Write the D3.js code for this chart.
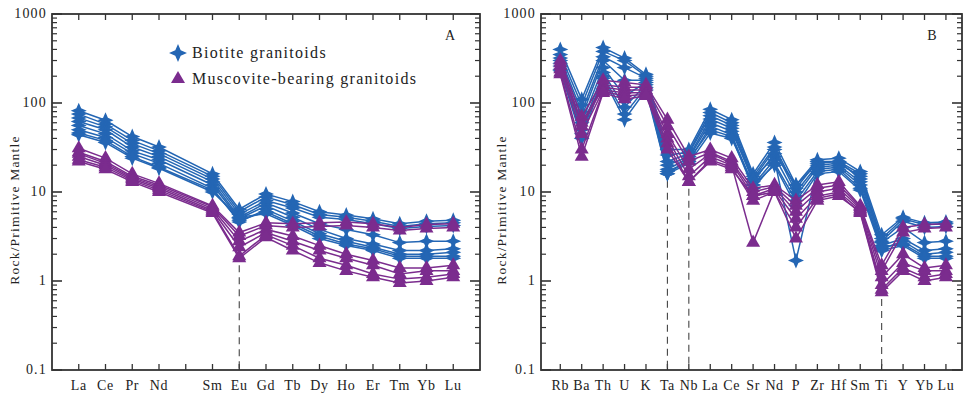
<!DOCTYPE html>
<html>
<head>
<meta charset="utf-8">
<script src="https://cdn.jsdelivr.net/npm/d3@7"></script>
<style>
  body { margin: 0; background: #fff; }
  svg text { font-family: "Liberation Serif", "DejaVu Serif", serif; fill: #222; }
</style>
</head>
<body>
<div class="chart"></div>
<script>
// element labels
var reeElements = ['La', 'Ce', 'Pr', 'Nd', 'Sm', 'Eu', 'Gd', 'Tb', 'Dy', 'Ho', 'Er', 'Tm', 'Yb', 'Lu'];
var reeSlots = [1, 2, 3, 4, 6, 7, 8, 9, 10, 11, 12, 13, 14, 15]; // Pm left out
var spiderElements = ['Rb', 'Ba', 'Th', 'U', 'K', 'Ta', 'Nb', 'La', 'Ce', 'Sr', 'Nd', 'P', 'Zr', 'Hf', 'Sm', 'Ti', 'Y', 'Yb', 'Lu'];
var yTickLabels = ['0.1', '1', '10', '100', '1000'];

// biotite granitoids, REE
var bioREE = [
  [82, 64, 42, 32, 16, 6.4, 9.5, 7.8, 6.0, 5.5, 5.0, 4.4, 4.7, 4.8],
  [75, 58, 38, 29, 15, 6.0, 8.8, 7.2, 5.6, 5.2, 4.7, 4.1, 4.4, 4.5],
  [68, 54, 35, 27, 14, 5.6, 8.0, 6.6, 5.2, 4.9, 4.4, 3.9, 4.1, 4.2],
  [62, 50, 32, 25, 13, 5.2, 7.5, 5.8, 4.4, 3.8, 3.3, 2.7, 2.8, 2.8],
  [56, 45, 29, 23, 12, 5.0, 7.0, 5.2, 3.8, 3.0, 2.6, 2.2, 2.2, 2.3],
  [50, 41, 27, 21, 11, 4.6, 6.4, 4.7, 3.4, 2.8, 2.4, 2.0, 2.0, 2.1],
  [46, 38, 25, 19, 10.5, 4.8, 6.0, 4.4, 3.2, 2.6, 2.3, 1.9, 1.9, 1.9],
  [44, 36, 24, 18.5, 10, 5.2, 5.7, 4.2, 3.0, 2.5, 2.2, 1.8, 1.8, 1.8]
];
// muscovite-bearing granitoids, REE
var musREE = [
  [31, 24, 16, 12.5, 7.0, 3.5, 4.5, 4.4, 4.5, 4.6, 4.4, 4.0, 4.3, 4.4],
  [28, 22, 15, 12, 6.8, 3.2, 4.2, 4.0, 4.1, 4.2, 4.0, 3.7, 3.9, 4.0],
  [27, 21, 14.5, 11.5, 6.5, 2.8, 3.8, 3.2, 2.5, 2.0, 1.7, 1.4, 1.4, 1.5],
  [25, 20, 14, 11, 6.2, 2.4, 3.5, 2.8, 2.2, 1.8, 1.5, 1.2, 1.3, 1.3],
  [23, 19, 13.5, 10.5, 6.0, 1.9, 3.3, 2.5, 1.8, 1.5, 1.2, 1.05, 1.1, 1.2],
  [22, 18, 13, 10, 5.8, 1.8, 3.1, 2.2, 1.6, 1.3, 1.1, 0.95, 1.0, 1.1]
];
// biotite granitoids, trace elements
var bioSpider = [
  [400, 110, 420, 320, 210, 30, 30, 85, 65, 16, 36, 12, 23, 24, 17, 3.3, 5.2, 4.5, 4.6],
  [350, 95, 380, 300, 200, 26, 28, 78, 60, 15, 32, 11, 22, 22, 16, 3.0, 5.0, 4.3, 4.4],
  [320, 80, 330, 250, 190, 22, 27, 72, 56, 14, 30, 10, 20, 21, 15, 2.8, 4.7, 4.0, 4.1],
  [300, 70, 300, 180, 180, 20, 25, 66, 52, 13, 27, 12, 21, 22, 14, 2.7, 4.0, 2.7, 2.8],
  [280, 60, 250, 120, 170, 18, 24, 60, 48, 14, 25, 9, 19, 20, 13, 2.5, 3.0, 2.2, 2.3],
  [260, 50, 220, 90, 160, 17, 22, 55, 44, 12, 23, 1.7, 18, 19, 12, 2.3, 2.8, 2.0, 2.1],
  [240, 45, 200, 75, 150, 16, 23, 50, 42, 11, 21, 8, 17, 18, 11, 2.4, 2.6, 1.9, 1.9],
  [230, 40, 190, 65, 140, 16, 21, 46, 40, 12, 20, 7, 16, 17, 10.5, 2.2, 2.5, 1.8, 1.8]
];
// muscovite-bearing granitoids, trace elements
var musSpider = [
  [300, 70, 180, 170, 160, 65, 25, 30, 24, 11, 12, 8, 12, 13, 7, 1.5, 4.0, 4.3, 4.4],
  [280, 60, 160, 150, 150, 55, 22, 28, 22, 10, 11.5, 7, 11, 12, 6.8, 1.3, 3.5, 3.9, 4.0],
  [260, 55, 150, 140, 140, 45, 18, 27, 21, 9, 11, 6, 10, 11, 6.5, 1.1, 2.0, 1.4, 1.5],
  [240, 45, 140, 130, 130, 40, 15, 25, 20, 2.7, 10.5, 5, 9, 10, 6.2, 0.9, 1.6, 1.3, 1.3],
  [220, 30, 135, 120, 125, 35, 13, 23, 19, 8, 10, 3, 8, 9, 6.0, 0.8, 1.4, 1.1, 1.2],
  [210, 25, 130, 110, 120, 30, 13, 22, 18, 9, 10, 4, 8.5, 9.5, 5.8, 0.75, 1.3, 1.0, 1.1]
];

var blue = '#2466b4', purple = '#7b2c8e';

var svg = d3.select('.chart').append('svg')
  .attr('width', 973).attr('height', 398);

// four pointed star marker for biotite
function starPath(r) {
  var a = r * 0.3;
  return 'M0,' + (-r) + 'L' + a + ',' + (-a) + 'L' + r + ',0L' + a + ',' + a +
    'L0,' + r + 'L' + (-a) + ',' + a + 'L' + (-r) + ',0L' + (-a) + ',' + (-a) + 'Z';
}
var triPath = d3.symbol().type(d3.symbolTriangle).size(85)();

function drawPanel(opt) {
  var x = d3.scaleLinear().domain(opt.xDomain).range([opt.left, opt.right]);
  var y = d3.scaleLog().domain([0.1, 1000]).range([opt.bottom, opt.top]);
  var g = svg.append('g');

  // log ticks on both sides
  var minor = [];
  for (var e = -1; e < 3; e++) {
    for (var m = 2; m < 10; m++) minor.push(m * Math.pow(10, e));
  }
  var major = yTickLabels.map(Number);
  [opt.left, opt.right].forEach(function (px, side) {
    var dir = side == 0 ? 1 : -1;
    g.selectAll(null).data(minor).enter().append('line')
      .attr('x1', px).attr('x2', px + dir * 5)
      .attr('y1', function (d) { return y(d); }).attr('y2', function (d) { return y(d); })
      .attr('stroke', '#333').attr('stroke-width', 1.2);
    g.selectAll(null).data(major).enter().append('line')
      .attr('x1', px).attr('x2', px + dir * 10)
      .attr('y1', function (d) { return y(d); }).attr('y2', function (d) { return y(d); })
      .attr('stroke', '#333').attr('stroke-width', 1.6);
  });

  // category ticks top and bottom
  g.selectAll(null).data(opt.tickSlots).enter().append('line')
    .attr('x1', function (d) { return x(d); }).attr('x2', function (d) { return x(d); })
    .attr('y1', opt.top).attr('y2', opt.top + 6)
    .attr('stroke', '#333').attr('stroke-width', 1.3);
  g.selectAll(null).data(opt.tickSlots).enter().append('line')
    .attr('x1', function (d) { return x(d); }).attr('x2', function (d) { return x(d); })
    .attr('y1', opt.bottom).attr('y2', opt.bottom - 6)
    .attr('stroke', '#333').attr('stroke-width', 1.3);

  // y labels
  g.selectAll(null).data(yTickLabels).enter().append('text')
    .attr('x', opt.left - 5).attr('y', function (d) { return y(+d) + 4; })
    .attr('text-anchor', 'end').style('font-size', '14px')
    .style('letter-spacing', '1.2px')
    .text(function (d) { return d; });

  // x labels
  g.selectAll(null).data(opt.labels).enter().append('text')
    .attr('x', function (d, i) { return x(opt.slots[i]); })
    .attr('y', opt.bottom + 20)
    .attr('text-anchor', 'middle').style('font-size', '14px')
    .style('letter-spacing', '0.6px')
    .text(function (d) { return d; });

  g.append('text')
    .attr('transform', 'translate(' + opt.axisX + ',' + ((opt.top + opt.bottom) / 2 + 18) + ') rotate(-90)')
    .attr('text-anchor', 'middle').style('font-size', '13.5px')
    .style('letter-spacing', '1.2px')
    .text('Rock/Primitive Mantle');

  g.append('text')
    .attr('x', opt.right - 30).attr('y', opt.top + 26)
    .attr('text-anchor', 'middle').style('font-size', '14px')
    .text(opt.letter);

  // dashed guides from the lowest value down to the axis
  opt.dashed.forEach(function (idx) {
    var lo = d3.min(opt.series[0].concat(opt.series[1]), function (row) { return row[idx]; });
    g.append('line')
      .attr('x1', x(opt.slots[idx])).attr('x2', x(opt.slots[idx]))
      .attr('y1', y(lo) + 7).attr('y2', opt.bottom)
      .attr('stroke', '#444').attr('stroke-width', 1.1)
      .attr('stroke-dasharray', '7,5');
  });

  var line = d3.line()
    .x(function (d, i) { return x(opt.slots[i]); })
    .y(function (d) { return y(d); });

  var colors = [blue, purple];
  opt.series.forEach(function (rows, s) {
    var sg = g.append('g');
    sg.selectAll('path.ln').data(rows).enter().append('path')
      .attr('class', 'ln')
      .attr('d', line)
      .attr('fill', 'none')
      .attr('stroke', colors[s]).attr('stroke-width', 1.5);
    rows.forEach(function (row) {
      sg.selectAll(null).data(row).enter().append('path')
        .attr('transform', function (d, i) { return 'translate(' + x(opt.slots[i]) + ',' + y(d) + ')'; })
        .attr('d', s == 0 ? starPath(8) : triPath)
        .attr('fill', colors[s]);
    });
  });

  // frame
  g.append('rect')
    .attr('x', opt.left).attr('y', opt.top)
    .attr('width', opt.right - opt.left).attr('height', opt.bottom - opt.top)
    .attr('fill', 'none').attr('stroke', '#333').attr('stroke-width', 1.8);

  return g;
}

var panelA = drawPanel({
  left: 52, right: 480, top: 14, bottom: 370,
  xDomain: [0, 16],
  slots: reeSlots,
  tickSlots: d3.range(1, 16),
  labels: reeElements,
  series: [bioREE, musREE],
  dashed: [5],
  axisX: 19,
  letter: 'A'
});

drawPanel({
  left: 541, right: 962, top: 14, bottom: 370,
  xDomain: [-0.9, 18.75],
  slots: d3.range(spiderElements.length),
  tickSlots: d3.range(spiderElements.length),
  labels: spiderElements,
  series: [bioSpider, musSpider],
  dashed: [5, 6, 15],
  axisX: 506,
  letter: 'B'
});

// legend
var legend = svg.append('g');
legend.append('path')
  .attr('transform', 'translate(178,53)')
  .attr('d', starPath(9)).attr('fill', blue);
legend.append('path')
  .attr('transform', 'translate(178,79)')
  .attr('d', triPath).attr('fill', purple);
legend.append('text')
  .attr('x', 192).attr('y', 58).style('font-size', '16px')
  .style('letter-spacing', '1.3px')
  .text('Biotite granitoids');
legend.append('text')
  .attr('x', 192).attr('y', 84).style('font-size', '16px')
  .style('letter-spacing', '1.3px')
  .text('Muscovite-bearing granitoids');
</script>
</body>
</html>
